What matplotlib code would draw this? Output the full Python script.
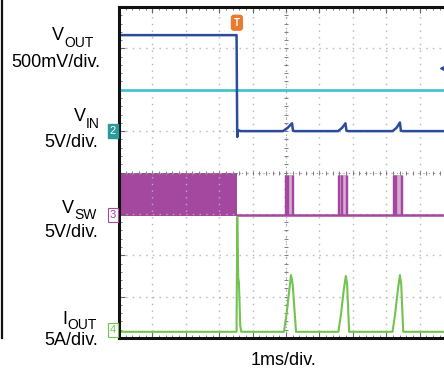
import numpy as np
import matplotlib.pyplot as plt
from matplotlib.lines import Line2D
from matplotlib.transforms import blended_transform_factory

plt.rcParams['font.family'] = ['Liberation Sans', 'DejaVu Sans']

#################################################
# scope data : x in divisions (1ms/div), y in screen divisions (0 = bottom)
#################################################

# V_OUT (ch1)
vout_t = [0.0, 3.52, 3.54, 3.57, 3.65, 4.91, 5.05, 5.18, 5.21, 5.26,
          6.56, 6.68, 6.78, 6.81, 6.86, 8.19, 8.31, 8.41, 8.44, 8.49, 10.0]
vout_v = [7.32, 7.32, 4.86, 5.02, 5.0, 5.0, 5.08, 5.19, 5.01, 5.0,
          5.0, 5.08, 5.19, 5.01, 5.0, 5.0, 5.08, 5.21, 5.01, 5.0, 5.0]

# V_IN (ch2)
vin_t = [0.0, 10.0]
vin_v = [5.99, 5.99]

# V_SW (ch3) : switching band, then baseline with bursts
sw_band_t = [0.0, 3.53]
sw_band_low = [2.95, 2.95]
sw_band_high = [4.0, 4.0]
sw_base_t = [3.53, 10.0]
sw_base_v = [2.97, 2.97]
sw_bursts = [(4.97, 5.2), (6.57, 6.82), (8.19, 8.46)]
sw_burst_lines = [[4.97, 5.0, 5.04, 5.07, 5.17, 5.2],
                  [6.57, 6.6, 6.64, 6.68, 6.79, 6.82],
                  [8.19, 8.22, 8.26, 8.3, 8.43, 8.46]]

# I_OUT (ch4)
iout_t = [0.0, 3.52, 3.54, 3.57, 3.59, 3.63, 3.66,
          4.94, 5.02, 5.09, 5.15, 5.2, 5.3,
          6.57, 6.65, 6.72, 6.79, 6.83, 6.89,
          8.19, 8.27, 8.34, 8.41, 8.45, 8.51, 10.0]
iout_v = [0.15, 0.15, 2.92, 1.45, 1.35, 0.3, 0.15,
          0.15, 0.6, 1.1, 1.52, 1.3, 0.15,
          0.15, 0.6, 1.1, 1.5, 1.3, 0.15,
          0.15, 0.6, 1.1, 1.52, 1.3, 0.15, 0.15]

trig_t = 3.53
ch1_mark = (9.7, 6.52)
ch_marks = [('2', 5.0), ('3', 2.97), ('4', 0.19)]

# labels : (main, sub, main right px, main baseline px, sub baseline px)
ch_labels = [('V', 'OUT', 64, 40, 47),
             ('V', 'IN', 86, 121, 128),
             ('V', 'SW', 74, 213, 219),
             ('I', 'OUT', 67, 324, 329)]
scale_labels = [('500mV/div.', 100, 67), ('5V/div.', 98, 147),
                ('5V/div.', 98, 237), ('5A/div.', 98, 345)]

C_VOUT = '#2c4b9c'
C_VIN = '#47c3cb'
C_VSW = '#a3479f'
C_IOUT = '#72c350'
C_TRIG = '#e97a30'
C_GRID = '#b4b4b4'

W, H = 444, 370
fig = plt.figure(figsize=(W / 100, H / 100), dpi=100)
ax = fig.add_axes([119 / W, 32 / H, 334 / W, 331 / H])
ax.set_xlim(0, 10)
ax.set_ylim(0, 8)

# graticule
ax.set_xticks(np.arange(0, 11, 1))
ax.set_yticks(np.arange(0, 9, 1))
ax.set_xticks(np.arange(0, 10.01, 0.2), minor=True)
ax.set_yticks(np.arange(0, 8.01, 0.2), minor=True)
ax.tick_params(which='both', direction='in', top=True, right=True,
               labelbottom=False, labelleft=False, color='#666666')
ax.tick_params(which='major', length=4, width=0.8)
ax.tick_params(which='minor', length=2, width=0.6)
ax.grid(which='major', color=C_GRID, linestyle=(0, (1, 3.8)), linewidth=1.0)
ax.axhline(4, color='#999999', linewidth=0.8, linestyle=(0, (1, 3.8)))
ax.axvline(5, color='#999999', linewidth=0.8, linestyle=(0, (1, 3.8)))
cx = np.arange(0, 10.01, 0.2)
cy = np.arange(0, 8.01, 0.2)
ax.plot(cx, np.full(len(cx), 4.0), '|', ms=3.5, color='#808080', mew=0.7)
ax.plot(np.full(len(cy), 5.0), cy, '_', ms=3.5, color='#808080', mew=0.7)
for s in ax.spines.values():
    s.set_linewidth(2.2)
    s.set_color('#111111')

# traces
ax.plot(vin_t, vin_v, color=C_VIN, linewidth=2.0)
ax.plot(vout_t, vout_v, color=C_VOUT, linewidth=1.8)
ax.fill_between(sw_band_t, sw_band_low, sw_band_high, color=C_VSW, linewidth=0)
ax.plot(sw_base_t, sw_base_v, color=C_VSW, linewidth=1.8)
for (a, b), xs in zip(sw_bursts, sw_burst_lines):
    ax.fill_between([a, b], sw_base_v[0], sw_band_high[0] - 0.05,
                    color=C_VSW, alpha=0.45, linewidth=0)
    ax.vlines(xs, sw_base_v[0], sw_band_high[0] - 0.05, color=C_VSW, linewidth=1.0)
ax.plot(iout_t, iout_v, color=C_IOUT, linewidth=1.5)

# markers
ax.plot([ch1_mark[0]], [ch1_mark[1]], marker='<', ms=4, color=C_VOUT, clip_on=False)
ax.text(trig_t, 7.62, 'T', color='white', fontsize=7, fontweight='bold',
        ha='center', va='center',
        bbox=dict(boxstyle='round,pad=0.25', fc=C_TRIG, ec=C_TRIG))
tr = blended_transform_factory(ax.transAxes, ax.transData)
ax.text(-0.018, ch_marks[0][1], ch_marks[0][0], transform=tr, color='white',
        fontsize=8, ha='center', va='center',
        bbox=dict(boxstyle='square,pad=0.15', fc='#2a9a9c', ec='#2a9a9c'))
ax.text(-0.018, ch_marks[1][1], ch_marks[1][0], transform=tr, color=C_VSW,
        fontsize=8, ha='center', va='center',
        bbox=dict(boxstyle='square,pad=0.15', fc='white', ec=C_VSW, lw=0.8))
ax.text(-0.018, ch_marks[2][1], ch_marks[2][0], transform=tr, color=C_IOUT,
        fontsize=8, ha='center', va='center',
        bbox=dict(boxstyle='square,pad=0.15', fc='white', ec=C_IOUT, lw=0.8))

# channel labels
for main, sub, xm, ym, ys in ch_labels:
    fig.text(xm / W, 1 - ym / H, main, fontsize=13, ha='right', va='baseline')
    fig.text(xm / W, 1 - ys / H, sub, fontsize=10, ha='left', va='baseline')
for txt, xr, yb in scale_labels:
    fig.text(xr / W, 1 - yb / H, txt, fontsize=13, ha='right', va='baseline')
fig.text(283 / W, 1 - 365 / H, '1ms/div.', fontsize=13, ha='center', va='baseline')

fig.add_artist(Line2D([1.5 / W, 1.5 / W], [32 / H, 1.0], color='#111111', linewidth=1.6))

fig.savefig('out.png', dpi=100)
